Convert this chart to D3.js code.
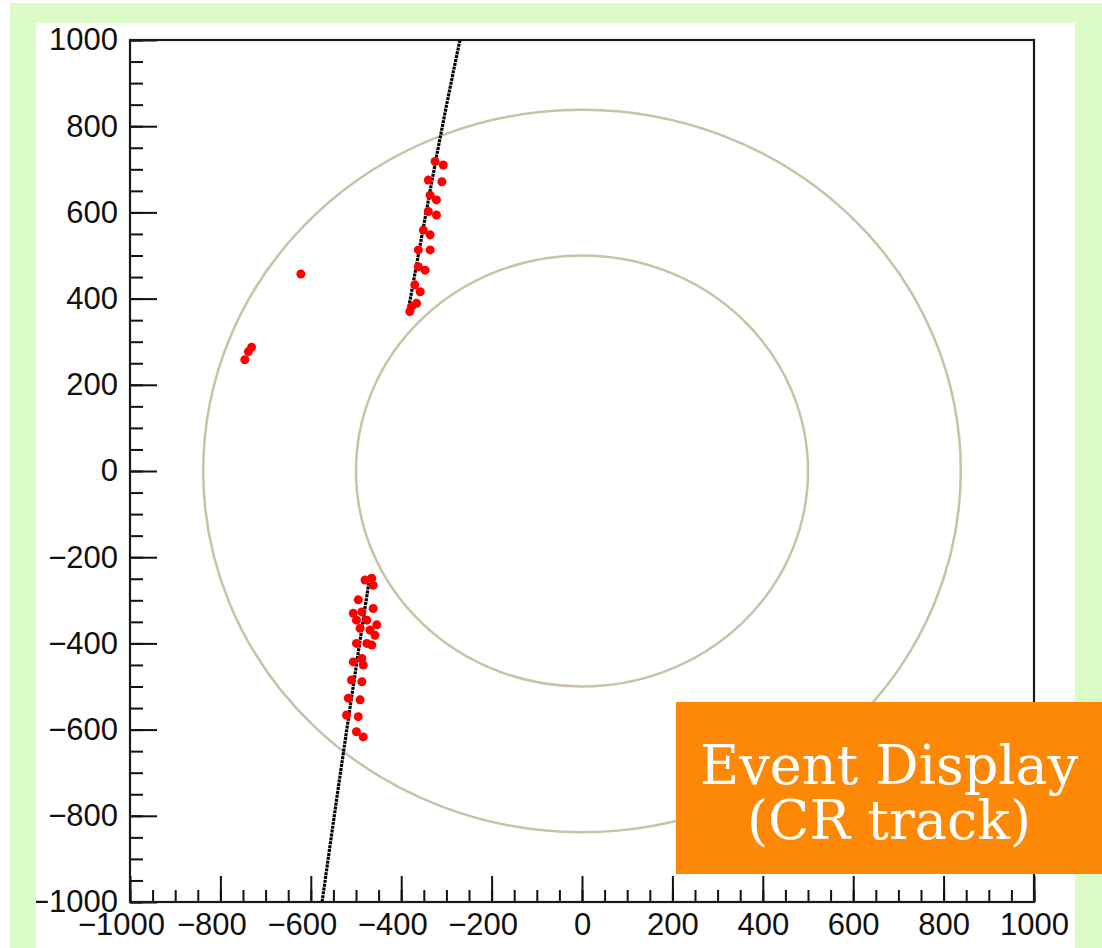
<!DOCTYPE html>
<html>
<head>
<meta charset="utf-8">
<script src="https://cdn.jsdelivr.net/npm/d3@7"></script>
<style>
body { margin: 0; background: #fff; }
</style>
</head>
<body>
<script>
/* Hits (x, y) in mm */
var upperHits = [[-325, 718], [-307, 710], [-340, 675], [-310, 671], [-336, 640], [-322, 629],
    [-340, 602], [-322, 594], [-351, 559], [-336, 548], [-362, 513], [-336, 513], [-362, 474],
    [-347, 466], [-370, 432], [-358, 416], [-377, 381], [-381, 370], [-366, 389]];
var lowerHits = [[-480, -253], [-465, -249], [-462, -265], [-495, -299], [-506, -330], [-487, -327],
    [-462, -319], [-499, -346], [-476, -346], [-454, -357], [-469, -369], [-491, -365], [-458, -381],
    [-499, -400], [-476, -400], [-465, -404], [-506, -443], [-484, -450], [-487, -435], [-510, -485],
    [-487, -489], [-517, -527], [-491, -531], [-521, -566], [-495, -570], [-499, -605], [-484, -617]];
var strayHits = [[-622, 457], [-731, 287], [-738, 277], [-746, 258]];

/* Fitted track, outside the inner ring */
var trackUpper = [[-270, 1000], [-319, 745], [-385, 369]];
var trackLower = [[-469, -241], [-527, -647], [-575, -1000]];

/* Detector rings (radius, mm) */
var ringRadii = [500, 838];

var majorTicks = d3.range(-1000, 1001, 200);
var minorTicks = d3.range(-1000, 1001, 50);
var labelLines = ["Event Display", "(CR track)"];

var W = 1102, H = 948;
var margin = {top: 40, right: 68, bottom: 46, left: 130},
    width = W - margin.left - margin.right,
    height = H - margin.top - margin.bottom;

var svg = d3.select("body").append("svg")
    .attr("width", W)
    .attr("height", H);

/* green slide frame */
svg.append("rect")
    .attr("x", 10).attr("y", 3)
    .attr("width", W - 10).attr("height", H - 3)
    .attr("fill", "#dbfcc5");
svg.append("rect")
    .attr("x", 36).attr("y", 23)
    .attr("width", 1075 - 36).attr("height", H - 23)
    .attr("fill", "#fff");

svg.append("clipPath").attr("id", "panel")
    .append("rect")
    .attr("x", 36).attr("y", 23)
    .attr("width", 1075 - 36).attr("height", H - 23);

var g = svg.append("g")
    .attr("clip-path", "url(#panel)")
    .append("g")
    .attr("transform", "translate(" + margin.left + "," + margin.top + ")");

var x = d3.scaleLinear().domain([-1000, 1000]).range([0, width]),
    y = d3.scaleLinear().domain([-1000, 1000]).range([height, 0]);

/* rings */
g.selectAll(".ring")
    .data(ringRadii)
    .enter().append("ellipse")
    .attr("class", "ring")
    .attr("cx", x(0))
    .attr("cy", y(0))
    .attr("rx", function(d) { return x(d) - x(0); })
    .attr("ry", function(d) { return y(0) - y(d); })
    .attr("fill", "none")
    .attr("stroke", "#c9c2a6")
    .attr("stroke-width", 2.5);

/* track */
var line = d3.line()
    .curve(d3.curveNatural)
    .x(function(d) { return x(d[0]); })
    .y(function(d) { return y(d[1]); });

g.selectAll(".track")
    .data([trackUpper, trackLower])
    .enter().append("path")
    .attr("class", "track")
    .attr("d", line)
    .attr("fill", "none")
    .attr("stroke", "#000")
    .attr("stroke-width", 3.2)
    .attr("stroke-dasharray", "3,0.9");

/* hits */
g.selectAll(".hit")
    .data(upperHits.concat(lowerHits, strayHits))
    .enter().append("circle")
    .attr("class", "hit")
    .attr("cx", function(d) { return x(d[0]); })
    .attr("cy", function(d) { return y(d[1]); })
    .attr("r", 4.5)
    .attr("fill", "#ff0000");

/* axes */
var fmt = function(d) { return d < 0 ? "\u2212" + Math.abs(d) : d; };

var xMinor = g.append("g")
    .attr("transform", "translate(0," + height + ")")
    .call(d3.axisBottom(x).tickValues(minorTicks).tickSize(-12).tickSizeOuter(0).tickFormat(""));
var xAxis = g.append("g")
    .attr("transform", "translate(0," + height + ")")
    .call(d3.axisBottom(x).tickValues(majorTicks).tickSize(-26).tickSizeOuter(0)
        .tickPadding(11).tickFormat(fmt));
var yMinor = g.append("g")
    .call(d3.axisLeft(y).tickValues(minorTicks).tickSize(-13).tickSizeOuter(0).tickFormat(""));
var yAxis = g.append("g")
    .call(d3.axisLeft(y).tickValues(majorTicks).tickSize(-27).tickSizeOuter(0)
        .tickPadding(12).tickFormat(fmt));

g.selectAll(".domain").remove();
g.selectAll(".tick line").attr("stroke", "#111").attr("stroke-width", 2);
g.selectAll(".tick text")
    .attr("fill", "#111")
    .style("font", "31px 'Liberation Sans', Arial, sans-serif");
/* digits centred on the tick, minus hangs left */
xAxis.selectAll(".tick text")
    .attr("dx", function(d) { return d < 0 ? "-0.29em" : 0; });

/* frame */
g.append("rect")
    .attr("width", width)
    .attr("height", height)
    .attr("fill", "none")
    .attr("stroke", "#1a1a1a")
    .attr("stroke-width", 2.2);

/* orange caption box */
var box = svg.append("g");
box.append("rect")
    .attr("x", 676).attr("y", 702)
    .attr("width", W - 676).attr("height", 874 - 702)
    .attr("fill", "#fd8806");
box.selectAll("text")
    .data(labelLines)
    .enter().append("text")
    .attr("x", 889)
    .attr("y", function(d, i) { return 784 + i * 55; })
    .attr("text-anchor", "middle")
    .attr("fill", "#fff")
    .style("font", "54px 'DejaVu Serif', serif")
    .text(function(d) { return d; });
</script>
</body>
</html>
